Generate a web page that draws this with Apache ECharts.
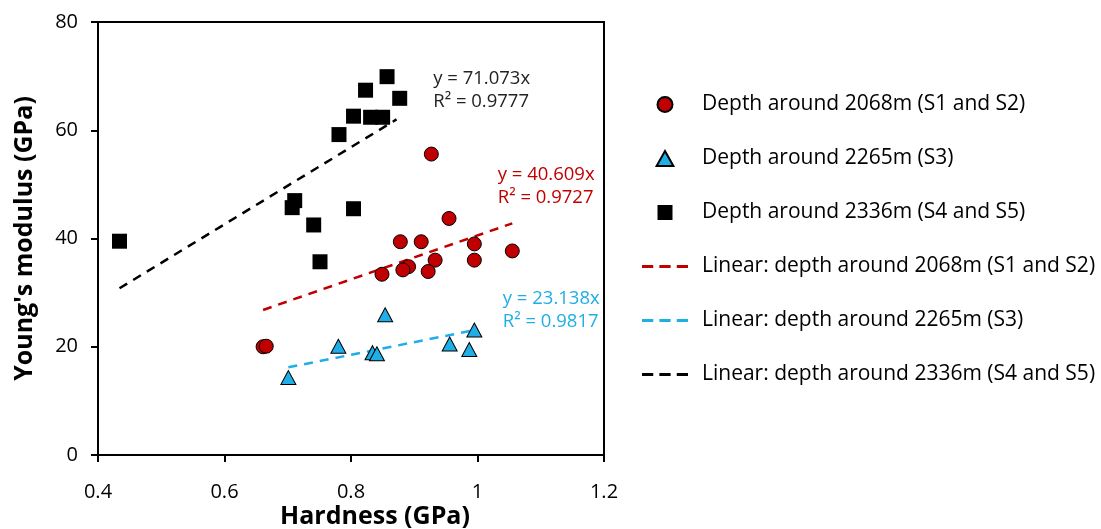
<!DOCTYPE html>
<html><head><meta charset="utf-8">
<script src="https://cdn.jsdelivr.net/npm/echarts@6/dist/echarts.min.js"></script>
<style>html,body{margin:0;padding:0;background:#fff}#c{width:1101px;height:529px}</style>
</head><body><div id="c"></div>
<script>
// Data
const seriesNames = [
  'Depth around 2068m (S1 and S2)',
  'Depth around 2265m (S3)',
  'Depth around 2336m (S4 and S5)',
  'Linear: depth around 2068m (S1 and S2)',
  'Linear: depth around 2265m (S3)',
  'Linear: depth around 2336m (S4 and S5)'
];
const pointsS12 = [[0.927,55.6],[0.955,43.7],[0.878,39.4],[0.911,39.4],[0.995,39.0],[1.055,37.7],[0.995,36.0],[0.933,36.0],[0.891,34.8],[0.882,34.2],[0.922,33.9],[0.849,33.4],[0.661,20.0],[0.666,20.1]];
const pointsS3 = [[0.854,25.9],[0.780,20.1],[0.834,18.9],[0.841,18.7],[0.956,20.5],[0.995,23.1],[0.987,19.5],[0.701,14.3]];
const pointsS45 = [[0.434,39.5],[0.781,59.2],[0.804,62.6],[0.823,67.4],[0.831,62.4],[0.850,62.4],[0.857,69.9],[0.877,65.9],[0.711,47.0],[0.707,45.7],[0.741,42.5],[0.804,45.5],[0.751,35.7]];
const trendS12 = [[0.661,26.8],[1.055,42.8]];
const trendS3 = [[0.701,16.2],[0.992,23.0]];
const trendS45 = [[0.434,30.8],[0.872,62.0]];
const eqTexts = ['y = 40.609x\nR² = 0.9727','y = 23.138x\nR² = 0.9817','y = 71.073x\nR² = 0.9777'];
const eqPos = [[1.032,49.6],[1.040,26.8],[0.930,67.4]];
const xTickRange = [0.4, 1.2, 0.2];
const yTickRange = [0, 80, 20];

const FONT = 'Open Sans';
const RED = '#C00000', BLUE = '#1FAEE6', BLACK = '#000000';
const DASH_ICON = 'path://M0,0h11v3h-11z M17,0h11v3h-11z M34,0h11v3h-11z';
const TRI_ICON = 'path://M7,0L14,12.5L0,12.5Z';
const SQ_ICON = 'path://M0,0h15v15h-15z';

function eqMark(i, color) {
  return {
    silent: true,
    symbol: 'circle', symbolSize: 0,
    label: {show: true, position: 'right', distance: 0, formatter: eqTexts[i], color: color,
      fontFamily: FONT, fontSize: 18.5, lineHeight: 23, align: 'left'},
    data: [{coord: eqPos[i]}]
  };
}

const chart = echarts.init(document.getElementById('c'));
chart.setOption({
  animation: false,
  textStyle: {fontFamily: FONT},
  grid: {left: 98, right: 497, top: 22, bottom: 74, outerBoundsMode: 'none', containLabel: false,
    show: true, borderColor: '#000', borderWidth: 2, backgroundColor: 'transparent'},
  xAxis: {
    type: 'value', min: xTickRange[0], max: xTickRange[1], interval: xTickRange[2],
    name: 'Hardness (GPa)', nameLocation: 'middle', nameGap: 49, nameMoveOverlap: false,
    nameTextStyle: {fontFamily: FONT, fontSize: 25, fontWeight: 'bold', color: '#000', padding: [0,0,0,48]},
    axisLine: {lineStyle: {color: '#000', width: 2}},
    axisTick: {show: true, length: 7, lineStyle: {color: '#000', width: 2}},
    axisLabel: {fontFamily: FONT, fontSize: 20, color: '#000', margin: 27},
    splitLine: {show: false}
  },
  yAxis: {
    type: 'value', min: yTickRange[0], max: yTickRange[1], interval: yTickRange[2],
    name: "Young's modulus (GPa)", nameLocation: 'middle', nameGap: 61, nameMoveOverlap: false,
    nameTextStyle: {fontFamily: FONT, fontSize: 25, fontWeight: 'bold', color: '#000'},
    axisLine: {lineStyle: {color: '#000', width: 2}},
    axisTick: {show: true, length: 7, lineStyle: {color: '#000', width: 2}},
    axisLabel: {fontFamily: FONT, fontSize: 20, color: '#000', margin: 20},
    splitLine: {show: false}
  },
  legend: {
    orient: 'vertical', left: 637, top: 86, itemWidth: 46, itemHeight: 15, itemGap: 27,
    symbolKeepAspect: true,
    data: [
      {name: seriesNames[0], icon: 'circle'},
      {name: seriesNames[1], icon: TRI_ICON},
      {name: seriesNames[2], icon: SQ_ICON},
      {name: seriesNames[3], icon: DASH_ICON},
      {name: seriesNames[4], icon: DASH_ICON},
      {name: seriesNames[5], icon: DASH_ICON}
    ],
    textStyle: {fontFamily: FONT, fontSize: 21, color: '#000', lineHeight: 27, padding: [0,0,0,9]}
  },
  series: [
    {name: seriesNames[0], type: 'scatter', data: pointsS12, symbol: 'circle', symbolSize: 14, z: 5,
     itemStyle: {color: RED, borderColor: '#000', borderWidth: 1, opacity: 1}},
    {name: seriesNames[1], type: 'scatter', data: pointsS3, symbol: 'triangle', symbolSize: [15, 14], z: 5,
     itemStyle: {color: BLUE, borderColor: '#000', borderWidth: 1, opacity: 1}},
    {name: seriesNames[2], type: 'scatter', data: pointsS45, symbol: 'rect', symbolSize: 15, z: 5,
     itemStyle: {color: BLACK, opacity: 1}},
    {name: seriesNames[3], type: 'line', data: trendS12, symbol: 'none', z: 3,
     lineStyle: {color: RED, width: 2.5, type: [9, 7]}, itemStyle: {color: RED}, markPoint: eqMark(0, RED)},
    {name: seriesNames[4], type: 'line', data: trendS3, symbol: 'none', z: 3,
     lineStyle: {color: BLUE, width: 2.5, type: [9, 7]}, itemStyle: {color: BLUE}, markPoint: eqMark(1, BLUE)},
    {name: seriesNames[5], type: 'line', data: trendS45, symbol: 'none', z: 3,
     lineStyle: {color: BLACK, width: 2.5, type: [9, 7]}, itemStyle: {color: BLACK}, markPoint: eqMark(2, '#222')}
  ]
});
</script></body></html>
